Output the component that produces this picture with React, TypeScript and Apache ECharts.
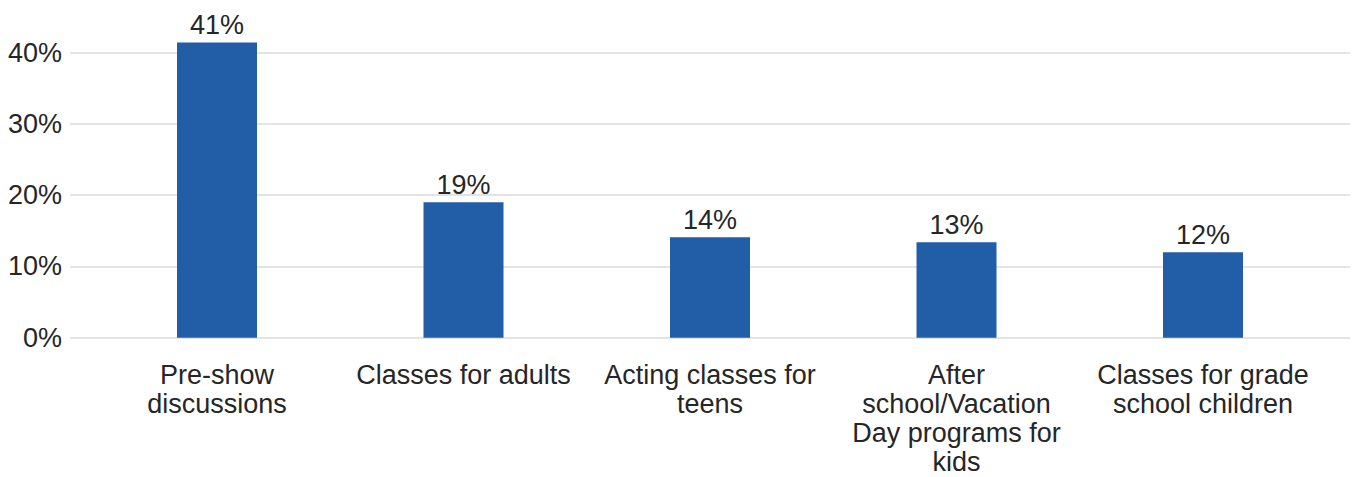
import React, { useEffect, useRef } from "react";
import * as echarts from "echarts";

const categories = [
  "Pre-show discussions",
  "Classes for adults",
  "Acting classes for teens",
  "After school/Vacation Day programs for kids",
  "Classes for grade school children",
];
const wrappedLabels = [
  "Pre-show\ndiscussions",
  "Classes for adults",
  "Acting classes for\nteens",
  "After\nschool/Vacation\nDay programs for\nkids",
  "Classes for grade\nschool children",
];
const values = [41.4, 19.0, 14.1, 13.4, 12.0];
const yTicks = [0, 10, 20, 30, 40];

const FONT = "Arial, Liberation Sans, sans-serif";
const TEXT = "#262626";
const FS = 27;

export default function App() {
  const ref = useRef<HTMLDivElement>(null);
  useEffect(() => {
    if (!ref.current) return;
    const chart = echarts.init(ref.current, null, { renderer: "svg" });
    const top = 52.5;
    const bottom = 139.3;
    chart.setOption({
      animation: false,
      backgroundColor: "#ffffff",
      textStyle: { fontFamily: FONT },
      grid: [
        { left: 70, right: 6, top, bottom, containLabel: false },
        { left: 93.75, right: 29.75, top, bottom, containLabel: false },
      ],
      xAxis: [
        {
          gridIndex: 0,
          type: "category",
          data: categories,
          show: false,
        },
        {
          gridIndex: 1,
          type: "category",
          data: categories,
          axisLine: { show: false },
          axisTick: { show: false },
          axisLabel: {
            interval: 0,
            margin: 23,
            fontSize: FS,
            lineHeight: 29,
            color: TEXT,
            fontFamily: FONT,
            align: "center",
            formatter: (_v: string, i: number) => wrappedLabels[i],
          },
        },
      ],
      yAxis: [
        {
          gridIndex: 0,
          type: "value",
          min: yTicks[0],
          max: yTicks[yTicks.length - 1],
          interval: 10,
          axisLine: { show: false },
          axisTick: { show: false },
          splitLine: { show: true, lineStyle: { color: "#e4e4e4", width: 2 } },
          axisLabel: {
            margin: 8,
            fontSize: FS,
            color: TEXT,
            fontFamily: FONT,
            formatter: "{value}%",
          },
        },
        {
          gridIndex: 1,
          type: "value",
          min: yTicks[0],
          max: yTicks[yTicks.length - 1],
          interval: 10,
          show: false,
          splitLine: { show: false },
        },
      ],
      series: [
        {
          type: "bar",
          xAxisIndex: 1,
          yAxisIndex: 1,
          data: values,
          barWidth: 80,
          clip: false,
          itemStyle: { color: "#225ea7" },
          label: {
            show: true,
            position: "top",
            distance: 4,
            fontSize: FS,
            color: TEXT,
            fontFamily: FONT,
            formatter: (p: any) => `${Math.round(p.value)}%`,
          },
        },
      ],
    });
    return () => chart.dispose();
  }, []);
  return (
    <div
      ref={ref}
      style={{ position: "absolute", left: 0, top: 0, width: 1356, height: 477 }}
    />
  );
}
